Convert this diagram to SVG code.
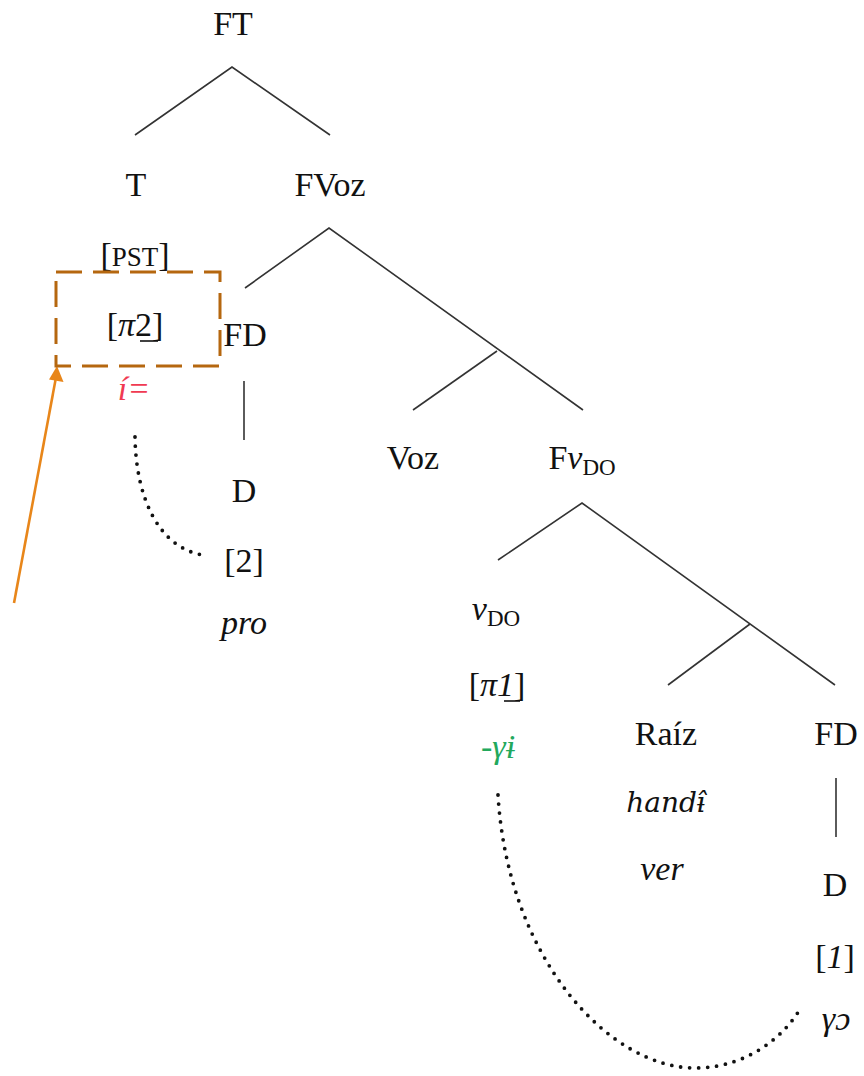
<svg xmlns="http://www.w3.org/2000/svg" width="864" height="1076" viewBox="0 0 864 1076">
<defs>
<style>
text{font-size:34px;fill:#111;text-anchor:middle}
.it{font-style:italic}
.sub{font-size:23px}
.sc{font-size:27px}
.red{fill:#f03a52}
.green{fill:#22a85c}
.small{font-size:28px;font-family:"DejaVu Serif",serif}
.edge{stroke:#333;stroke-width:1.6;fill:none}
.dots{stroke:#111;stroke-width:3.8;fill:none;stroke-linecap:round;stroke-dasharray:0 9}
.ul{stroke:#111;stroke-width:1.6}
</style>
</defs>
<rect width="864" height="1076" fill="#fff"/>
<g id="connectors">
<path class="edge" d="M135,135 L232,67 L330,135"/>
<path class="edge" d="M245,288 L329,228 L583,410"/>
<path class="edge" d="M413,410 L497,351"/>
<line class="edge" x1="244" y1="381" x2="244" y2="440"/>
<path class="edge" d="M498,560 L582,503 L835,685"/>
<path class="edge" d="M668,685 L750,624"/>
<line class="edge" x1="836" y1="778" x2="836" y2="837"/>
<path class="dots" d="M135,437 C136,500 160,548 203,555"/>
<path class="dots" d="M498,795 C508,960 610,1068 695,1068 C748,1068 785,1035 800,1009"/>
<line x1="14" y1="603" x2="55.5" y2="380" stroke="#e8861a" stroke-width="2.6"/>
<path d="M57,366 L63.5,382 L49,379.5 Z" fill="#e8861a"/>
</g>
<g font-family="Liberation Serif, DejaVu Serif, serif">
<g id="FT"><text x="233" y="35">FT</text></g>
<g id="T"><text x="136" y="196">T</text>
<text x="135" y="266">[<tspan class="sc">PST</tspan>]</text></g>
<g id="box"><rect x="56" y="272" width="164" height="94" fill="none" stroke="#b5670f" stroke-width="3" stroke-dasharray="26 11"/>
<text x="135" y="336">[<tspan class="it">π</tspan>2]</text>
<line class="ul" x1="140" y1="341" x2="158" y2="341"/>
<text class="red it" x="134" y="400">í=</text></g>
<g id="FVoz"><text x="330" y="196">FVoz</text></g>
<g id="FD1"><text x="245" y="346">FD</text></g>
<g id="D1"><text x="244" y="502">D</text>
<text x="244" y="572">[2]</text>
<text class="it" x="244" y="634">pro</text></g>
<g id="Voz"><text x="413" y="469">Voz</text></g>
<g id="FvDO"><text x="582" y="469">F<tspan class="it">v</tspan><tspan class="sub" dy="6">DO</tspan></text></g>
<g id="vDO"><text x="496" y="620"><tspan class="it">v</tspan><tspan class="sub" dy="6">DO</tspan></text>
<text x="497" y="696">[<tspan class="it">π1</tspan>]</text>
<line class="ul" x1="504" y1="701" x2="520" y2="701"/>
<text class="green it" x="498" y="758">-γɨ</text></g>
<g id="Raiz"><text x="666" y="745">Raíz</text>
<text class="it small" x="666" y="812">handɨ̂</text>
<text class="it" x="662" y="880">ver</text></g>
<g id="FD2"><text x="836" y="745">FD</text></g>
<g id="D2"><text x="835" y="896">D</text>
<text x="835" y="968">[<tspan class="it">1</tspan>]</text>
<text class="it" x="836" y="1030">γɔ</text></g>
</g>
</svg>
